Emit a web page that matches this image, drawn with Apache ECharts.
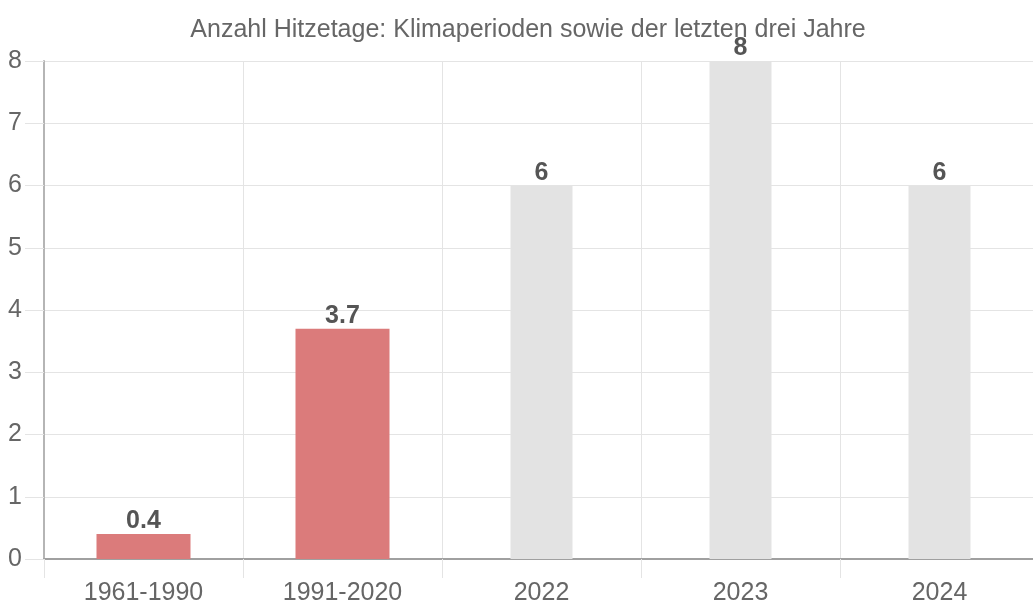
<!DOCTYPE html>
<html>
<head>
<meta charset="utf-8">
<script src="https://cdn.jsdelivr.net/npm/echarts@6/dist/echarts.min.js"></script>
<style>
  html, body { margin: 0; padding: 0; background: #fff; }
  #chart { width: 1033px; height: 606px; }
</style>
</head>
<body>
<div id="chart"></div>
<script>
var chart = echarts.init(document.getElementById('chart'));

const categories = ['1961-1990', '1991-2020', '2022', '2023', '2024'];
// Klimaperioden (Mittelwerte)
const periodValues = [0.4, 3.7, '-', '-', '-'];
// einzelne Jahre
const yearValues = ['-', '-', 6, 8, 6];
const yTicks = { min: 0, max: 8, interval: 1 };

const font = 'Liberation Sans, Arial, sans-serif';
const gridColor = '#e4e4e4';

var option = {
  animation: false,
  title: {
    text: 'Anzahl Hitzetage: Klimaperioden sowie der letzten drei Jahre',
    left: 523,
    top: 13,
    textAlign: 'center',
    textStyle: { fontFamily: font, fontSize: 25, fontWeight: 'normal', color: '#666' }
  },
  grid: { left: 44, top: 61, right: -6, bottom: 47, outerBoundsMode: 'none' },
  xAxis: [
    {
      type: 'category',
      data: categories,
      axisLine: { lineStyle: { color: '#a0a0a0', width: 2 } },
      axisTick: { show: true, length: 19, lineStyle: { color: gridColor } },
      axisLabel: { margin: 22, fontFamily: font, fontSize: 25, color: '#666' },
      splitLine: { show: true, lineStyle: { color: gridColor } }
    },
    {
      type: 'category',
      data: categories,
      show: false
    }
  ],
  yAxis: {
    type: 'value',
    min: yTicks.min,
    max: yTicks.max,
    interval: yTicks.interval,
    axisLine: { show: true, lineStyle: { color: '#b5b5b5', width: 2 } },
    axisTick: { show: true, length: 19, lineStyle: { color: gridColor } },
    axisLabel: { margin: 22, fontFamily: font, fontSize: 25, color: '#666' },
    splitLine: { show: true, lineStyle: { color: gridColor } }
  },
  series: [
    {
      type: 'bar',
      xAxisIndex: 0,
      data: periodValues,
      barWidth: 94,
      itemStyle: { color: '#db7b7b' },
      label: {
        show: true, position: 'top', distance: 0,
        fontFamily: font, fontSize: 25, fontWeight: 'bold', color: '#555'
      }
    },
    {
      type: 'bar',
      xAxisIndex: 1,
      data: yearValues,
      barWidth: 62,
      itemStyle: { color: '#e3e3e3' },
      label: {
        show: true, position: 'top', distance: 0,
        fontFamily: font, fontSize: 25, fontWeight: 'bold', color: '#555'
      }
    }
  ]
};

chart.setOption(option);
</script>
</body>
</html>
